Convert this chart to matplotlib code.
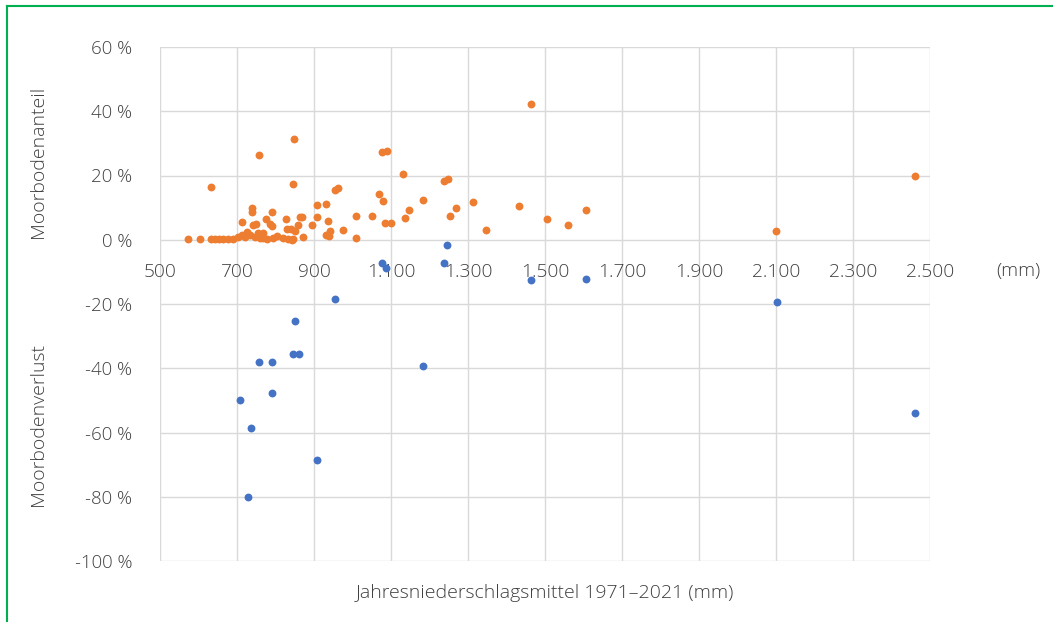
import matplotlib.pyplot as plt
from matplotlib.lines import Line2D
from matplotlib.ticker import FuncFormatter

# Moorbodenanteil (orange) - Niederschlag (mm), Anteil (%)
anteil_mm = [632, 756, 849, 845, 955, 963, 1077, 1089, 1069, 1078, 1132, 1182,
             1238, 1247, 1464, 1314, 1433, 1607, 1147, 1268, 1051, 1008, 1136,
             1252, 1085, 1099, 1346, 1505, 1561, 2100, 2461, 1008, 975,
             909, 930, 740, 738, 790, 712, 742, 749, 775, 827, 864, 869, 909,
             786, 790, 859, 894, 937, 829, 839, 851, 941, 932, 938, 872, 767,
             803, 794, 777, 820, 833, 842, 768,
             572, 604, 632, 642, 652, 664, 677, 690, 703, 712, 721, 725, 734,
             747, 755, 760, 846]
anteil_pct = [16.4, 26.3, 31.5, 17.3, 15.6, 16.1, 27.3, 27.7, 14.2, 12.2, 20.5, 12.4,
              18.4, 19.0, 42.4, 11.8, 10.6, 9.3, 9.4, 10.0, 7.4, 7.4, 6.8,
              7.4, 5.3, 5.3, 3.1, 6.4, 4.6, 2.8, 19.9, 0.4, 3.0,
              10.7, 11.1, 9.9, 8.6, 8.5, 5.5, 4.7, 5.0, 6.4, 6.4, 7.2, 7.1, 7.2,
              5.0, 4.4, 4.7, 4.7, 5.7, 3.4, 3.3, 2.6, 2.8, 1.6, 1.3, 1.0, 2.1,
              1.2, 0.5, 0.2, 0.5, 0.2, 0.0, 0.5,
              0.1, 0.1, 0.1, 0.1, 0.2, 0.2, 0.3, 0.3, 1.0, 1.6, 1.0, 2.3, 1.6,
              1.0, 2.1, 0.5, 0.3]

# Moorbodenverlust (blau)
verlust_mm = [708, 737, 729, 756, 790, 790, 851, 845, 861, 955, 907, 1182,
              1077, 1087, 1238, 1246, 1464, 1606, 2103, 2461]
verlust_pct = [-50, -58.7, -80, -38, -38, -47.8, -25.2, -35.5, -35.5, -18.3, -68.7, -39.3,
               -7.2, -8.7, -7.2, -1.6, -12.4, -12.1, -19.3, -53.8]

x_ticks = list(range(500, 2501, 200))
y_ticks = list(range(-100, 61, 20))

plt.rcParams['font.family'] = ['Open Sans', 'DejaVu Sans']
plt.rcParams['font.weight'] = 300
text_color = '#404040'

fig = plt.figure(figsize=(10.53, 6.22), dpi=100)
ax = fig.add_axes([160 / 1053, 1 - 561 / 622, 770 / 1053, 514 / 622])

ax.scatter(anteil_mm, anteil_pct, s=32, color='#ED7D31', zorder=3, linewidths=0)
ax.scatter(verlust_mm, verlust_pct, s=32, color='#4472C4', zorder=3, linewidths=0)

ax.set_xlim(500, 2500)
ax.set_ylim(-100, 60)
ax.set_xticks(x_ticks)
ax.set_yticks(y_ticks)
ax.xaxis.set_major_formatter(FuncFormatter(lambda v, p: f'{int(v):,}'.replace(',', '.')))
ax.yaxis.set_major_formatter(FuncFormatter(lambda v, p: f'{int(v)} %'))
ax.grid(True, color='#D9D9D9', linewidth=1)
ax.set_axisbelow(True)
for s in ax.spines.values():
    s.set_visible(False)
ax.spines['bottom'].set_position(('data', 0))
ax.tick_params(axis='x', length=0, pad=17, labelsize=13.8, labelcolor=text_color)
ax.tick_params(axis='y', length=0, pad=20, labelsize=13.4, labelcolor=text_color)

fig.text(1018 / 1053, 1 - 271 / 622, '(mm)', ha='center', va='center',
         fontsize=13.8, color=text_color)
fig.text(38 / 1053, 1 - 162 / 622, 'Moorbodenanteil', rotation=90, ha='center',
         va='center', fontsize=14, color=text_color)
fig.text(38 / 1053, 1 - 425 / 622, 'Moorbodenverlust', rotation=90, ha='center',
         va='center', fontsize=14, color=text_color)
fig.text(545 / 1053, 1 - 593 / 622, 'Jahresniederschlagsmittel 1971–2021 (mm)',
         ha='center', va='center', fontsize=14, color=text_color)

# gruener Rahmen
fig.add_artist(Line2D([7 / 1053, 7 / 1053], [0, 1 - 6 / 622], color='#00B050', linewidth=1.5))
fig.add_artist(Line2D([7 / 1053, 1], [1 - 6 / 622, 1 - 6 / 622], color='#00B050', linewidth=1.5))

fig.savefig('out.png', dpi=100)
